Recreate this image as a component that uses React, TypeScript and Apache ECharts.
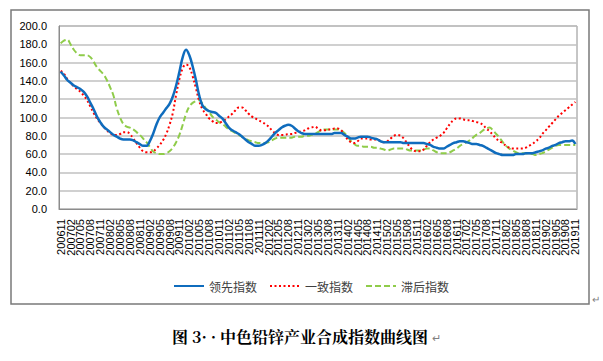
import React, { useEffect, useRef } from "react";
import * as echarts from "echarts";

// Months 200611 .. 201911 (monthly)
const START_YEAR = 2006;
const START_MONTH = 11;
const MONTH_COUNT = 157;
const months: string[] = [];
for (let k = 0; k < MONTH_COUNT; k++) {
  const m0 = START_MONTH - 1 + k;
  const y = START_YEAR + Math.floor(m0 / 12);
  const m = (m0 % 12) + 1;
  months.push(`${y}${m < 10 ? "0" + m : m}`);
}
const LABEL_EVERY = 3;

const seriesNames = ["领先指数", "一致指数", "滞后指数"];

const leading: number[] = [
  150, 146,
  141, 138, 135, 133, 131, 128, 123, 116, 109, 101, 95, 90,
  87, 84, 81, 79, 77, 76, 76, 76, 75, 73, 71, 69,
  69, 74, 82, 92, 100, 105, 110, 115, 123, 135, 150, 166,
  174, 168, 156, 141, 124, 113, 109, 107, 106, 105, 102, 99,
  94, 89, 86, 84, 82, 79, 76, 73, 71, 69, 69, 70,
  72, 75, 79, 83, 86, 89, 91, 92, 91, 88, 85, 83,
  82, 82, 82, 82, 82, 82, 82, 82, 82, 83, 83, 83,
  81, 79, 77, 77, 78, 79, 79, 79, 78, 77, 76, 74,
  73, 73, 73, 73, 73, 73, 72, 72, 72, 72, 72, 72,
  72, 71, 70, 68, 67, 66, 66, 68, 70, 72, 73, 74,
  74, 73, 72, 71, 71, 70, 69, 67, 65, 63, 61, 60,
  59, 59, 59, 59, 60, 60, 60, 61, 61, 61, 62, 63,
  64, 66, 67, 69, 70, 72, 73, 74, 74, 75, 71,
];

const coincident: number[] = [
  151, 148,
  142, 138, 134, 131, 128, 124, 119, 112, 105, 99, 94, 90,
  86, 83, 81, 81, 82, 84, 84, 82, 77, 72, 67, 63,
  62, 62, 63, 66, 70, 75, 82, 92, 105, 125, 142, 154,
  158, 155, 145, 132, 118, 109, 104, 99, 96, 94, 94, 96,
  98, 101, 104, 108, 111, 111, 108, 104, 101, 99, 97, 95,
  93, 90, 86, 83, 81, 81, 81, 82, 82, 83, 84, 85,
  86, 88, 89, 90, 88, 86, 86, 87, 87, 88, 88, 86,
  81, 76, 73, 72, 74, 77, 77, 77, 76, 76, 76, 74,
  73, 74, 77, 80, 81, 80, 77, 72, 67, 64, 63, 63,
  65, 69, 73, 76, 78, 80, 83, 88, 93, 97, 99, 99,
  98, 97, 97, 96, 95, 94, 92, 88, 85, 81, 77, 74,
  72, 69, 67, 66, 66, 66, 66, 67, 69, 71, 74, 77,
  82, 86, 90, 94, 98, 102, 105, 108, 111, 114, 117,
];

const lagging: number[] = [
  181, 184,
  185, 180, 174, 170, 168, 168, 168, 166, 161, 155, 151, 147,
  141, 133, 124, 110, 100, 93, 90, 89, 87, 84, 81, 77,
  73, 68, 63, 61, 60, 60, 61, 63, 67, 73, 81, 92,
  104, 112, 116, 118, 119, 115, 110, 106, 101, 98, 95, 93,
  90, 87, 85, 83, 81, 79, 77, 75, 74, 73, 72, 72,
  72, 73, 75, 77, 78, 78, 78, 78, 78, 79, 79, 79,
  80, 80, 81, 82, 84, 86, 87, 87, 87, 87, 87, 86,
  83, 79, 74, 71, 69, 69, 68, 68, 68, 67, 67, 66,
  65, 64, 65, 66, 66, 66, 66, 65, 64, 64, 64, 64,
  65, 66, 66, 64, 62, 61, 61, 61, 62, 64, 66, 69,
  71, 73, 75, 78, 81, 83, 86, 88, 89, 86, 82, 78,
  73, 69, 66, 64, 62, 61, 61, 61, 60, 60, 59, 60,
  61, 63, 65, 67, 69, 70, 70, 70, 70, 70, 70,
];

const Y_MIN = 0;
const Y_MAX = 200;
const Y_STEP = 20;

const caption = "图 3· · 中色铅锌产业合成指数曲线图";

export default function App() {
  const ref = useRef<HTMLDivElement>(null);
  useEffect(() => {
    if (!ref.current) return;
    const chart = echarts.init(ref.current, undefined, { renderer: "svg" });
    const font = "Liberation Sans, Arial, sans-serif";
    const cjk = "'Noto Sans CJK SC', sans-serif";
    chart.setOption({
      animation: false,
      backgroundColor: "#ffffff",
      grid: {
        left: 59,
        top: 26,
        right: 26,
        bottom: 152,
        show: true,
        borderColor: "#8c8c8c",
        borderWidth: 1,
        containLabel: false,
      },
      legend: {
        left: 168,
        top: 275,
        itemWidth: 30,
        itemHeight: 10,
        itemGap: 12,
        itemStyle: { opacity: 0 },
        textStyle: { fontFamily: cjk, fontSize: 12, color: "#404040" },
        data: seriesNames,
      },
      xAxis: {
        type: "category",
        data: months,
        boundaryGap: true,
        axisLine: { show: true, lineStyle: { color: "#8c8c8c", width: 1 } },
        axisTick: { show: false },
        axisLabel: {
          interval: 0,
          rotate: 90,
          margin: 10,
          hideOverlap: false,
          formatter: (v: string, idx: number) => (idx % LABEL_EVERY === 0 ? v : ""),
          fontFamily: font,
          fontSize: 11,
          color: "#000000",
        },
        splitLine: { show: false },
      },
      yAxis: {
        type: "value",
        min: Y_MIN,
        max: Y_MAX,
        interval: Y_STEP,
        axisLine: { show: true, lineStyle: { color: "#8c8c8c", width: 1 } },
        axisTick: { show: false },
        axisLabel: {
          formatter: (v: number) => v.toFixed(1),
          fontFamily: font,
          fontSize: 11,
          color: "#000000",
          margin: 12,
        },
        splitLine: { show: true, lineStyle: { color: "#c0c0c0", width: 1.5 } },
      },
      series: [
        {
          name: seriesNames[0],
          type: "line",
          data: leading,
          smooth: 0.4,
          showSymbol: false,
          symbol: "none",
          lineStyle: { color: "#0f6cbd", width: 2.5, type: "solid" },
          itemStyle: { color: "#0f6cbd" },
          z: 3,
        },
        {
          name: seriesNames[1],
          type: "line",
          data: coincident,
          smooth: 0.4,
          showSymbol: false,
          symbol: "none",
          lineStyle: { color: "#ff0000", width: 2, type: [2, 2.5] },
          itemStyle: { color: "#ff0000" },
          z: 2,
        },
        {
          name: seriesNames[2],
          type: "line",
          data: lagging,
          smooth: 0.4,
          showSymbol: false,
          symbol: "none",
          lineStyle: { color: "#8fcc4a", width: 2, type: [6, 3] },
          itemStyle: { color: "#8fcc4a" },
          z: 1,
        },
      ],
      graphic: [
        {
          type: "rect",
          shape: { x: 11, y: 10, width: 578, height: 294 },
          style: { fill: "none", stroke: "#7a7a7a", lineWidth: 1.5 },
          silent: true,
        },
        {
          type: "text",
          x: 592,
          y: 294,
          style: { text: "↵", fontSize: 10, fill: "#808080", fontFamily: font },
          silent: true,
        },
        {
          type: "text",
          x: 300,
          y: 336,
          style: {
            text: caption,
            fontSize: 16,
            fontWeight: "bold",
            fill: "#000000",
            fontFamily: "'Noto Serif CJK SC', 'Noto Sans CJK SC', serif",
            align: "center",
            verticalAlign: "middle",
          },
          silent: true,
        },
        {
          type: "text",
          x: 432,
          y: 338,
          style: { text: "↵", fontSize: 11, fill: "#808080", fontFamily: font, verticalAlign: "middle" },
          silent: true,
        },
      ],
    });
    return () => chart.dispose();
  }, []);
  return (
    <div
      ref={ref}
      style={{ position: "fixed", left: 0, top: 0, width: 603, height: 361, background: "#fff" }}
    />
  );
}
